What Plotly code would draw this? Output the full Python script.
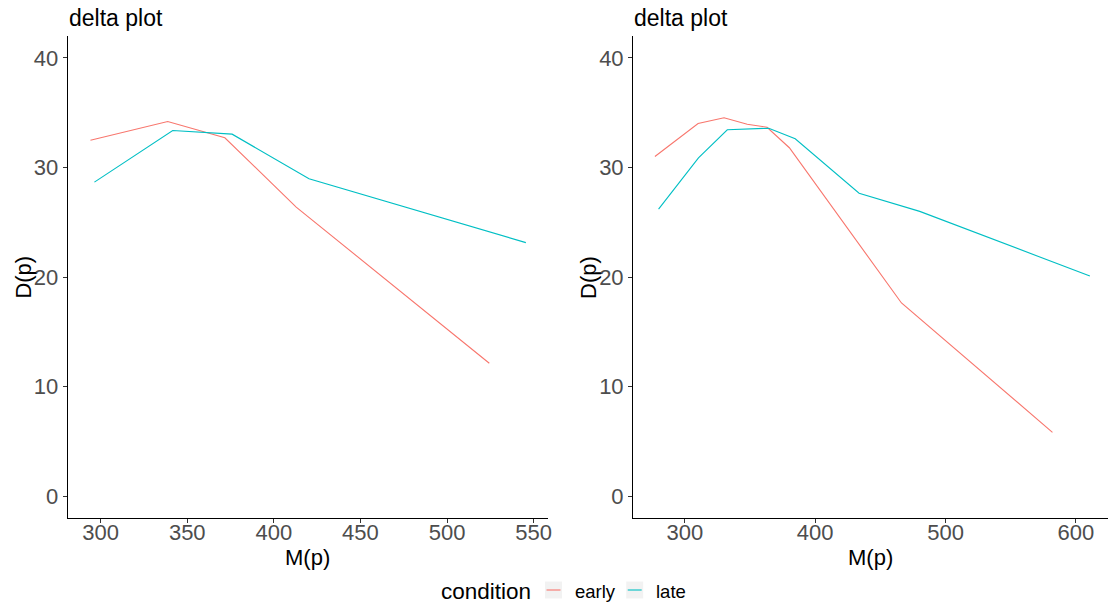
import plotly.graph_objects as go

# ---- data ----
left_early_x = [294.1, 338.7, 371.7, 412.9, 524.4]
left_early_y = [32.49, 34.19, 32.71, 26.38, 12.13]
left_late_x = [296.4, 341.6, 375.9, 420.3, 545.5]
left_late_y = [28.66, 33.37, 33.04, 28.97, 23.14]

right_early_x = [277.1, 310.2, 330.1, 347.9, 363.1, 380.2, 466.2, 582.0]
right_early_y = [31.00, 34.01, 34.53, 33.95, 33.67, 31.80, 17.63, 5.82]
right_late_x = [279.9, 310.5, 332.6, 364.4, 384.7, 433.7, 480.2, 610.7]
right_late_y = [26.20, 30.87, 33.44, 33.58, 32.62, 27.65, 25.99, 20.09]

left_xticks = [300, 350, 400, 450, 500, 550]
right_xticks = [300, 400, 500, 600]
yticks = [0, 10, 20, 30, 40]

conditions = ["early", "late"]
colors = {"early": "#F8766D", "late": "#00BFC4"}

W, H = 1113, 603
FONT = "Liberation Sans, Arial, Helvetica, sans-serif"


def px(x):
    return x / W


def py(y):
    return 1 - y / H


fig = go.Figure()

for cond, xs, ys in [("early", left_early_x, left_early_y), ("late", left_late_x, left_late_y)]:
    fig.add_trace(go.Scatter(x=xs, y=ys, mode="lines", name=cond, xaxis="x", yaxis="y",
                             line=dict(color=colors[cond], width=1.1), showlegend=False))
for cond, xs, ys in [("early", right_early_x, right_early_y), ("late", right_late_x, right_late_y)]:
    fig.add_trace(go.Scatter(x=xs, y=ys, mode="lines", name=cond, xaxis="x2", yaxis="y2",
                             line=dict(color=colors[cond], width=1.1), showlegend=False))

axis_common = dict(showline=True, linecolor="black", linewidth=1, ticks="outside", ticklen=4,
                   tickwidth=1, tickcolor="#333333", showgrid=False, zeroline=False,
                   tickfont=dict(family=FONT, size=22, color="#4D4D4D"))

ydom = [py(518), py(36)]
fig.update_layout(
    width=W, height=H,
    margin=dict(l=0, r=0, t=0, b=0),
    paper_bgcolor="white", plot_bgcolor="white",
    font=dict(family=FONT),
    showlegend=False,
    xaxis=dict(domain=[px(68), px(550)], range=[281.0, 558.3], tickvals=left_xticks,
               anchor="y", ticklabelstandoff=-9, **axis_common),
    yaxis=dict(domain=ydom, range=[-2, 42], tickvals=yticks, anchor="x", **axis_common),
    xaxis2=dict(domain=[px(635.3), px(1112)], range=[260.3, 624.6],
                tickvals=right_xticks, anchor="y2", ticklabelstandoff=-9, **axis_common),
    yaxis2=dict(domain=ydom, range=[-2, 42], tickvals=yticks, anchor="x2", **axis_common),
)

ann = []
# panel titles
for x0 in (68, 635.3):
    ann.append(dict(text="delta plot", x=px(x0 - 1), y=py(18), xref="paper", yref="paper",
                    xanchor="left", yanchor="middle", showarrow=False,
                    font=dict(family=FONT, size=23, color="black")))
# axis titles
for xc in (309, 873.5):
    ann.append(dict(text="M(p)", x=px(xc), y=py(557), xref="paper", yref="paper",
                    xanchor="center", yanchor="middle", showarrow=False,
                    font=dict(family=FONT, size=22, color="black")))
for xc in (22.7, 590):
    ann.append(dict(text="D(p)", x=px(xc), y=py(277), xref="paper", yref="paper",
                    xanchor="center", yanchor="middle", showarrow=False, textangle=-90,
                    font=dict(family=FONT, size=22, color="black")))

# legend
ann.append(dict(text="condition", x=px(441), y=py(591), xref="paper", yref="paper",
                xanchor="left", yanchor="middle", showarrow=False,
                font=dict(family=FONT, size=22.5, color="black")))
key_x = {"early": 547, "late": 628.5}
label_x = {"early": 575.5, "late": 656.5}
shapes = []
for cond in conditions:
    kx = key_x[cond]
    shapes.append(dict(type="rect", xref="paper", yref="paper", x0=px(kx), x1=px(kx + 17),
                       y0=py(598.5), y1=py(581.5), fillcolor="#F2F2F2", line=dict(width=0),
                       layer="below"))
    shapes.append(dict(type="line", xref="paper", yref="paper", x0=px(kx + 1.5), x1=px(kx + 15.5),
                       y0=py(590), y1=py(590), line=dict(color=colors[cond], width=1.1)))
    ann.append(dict(text=cond, x=px(label_x[cond]), y=py(591), xref="paper", yref="paper",
                    xanchor="left", yanchor="middle", showarrow=False,
                    font=dict(family=FONT, size=18.5, color="black")))

fig.update_layout(annotations=ann, shapes=shapes)

# remove the default page margin so the figure fills the window exactly
fig.write_html("out.html",
               config={"displayModeBar": False},
               post_script="document.body.style.margin='0';document.body.style.overflow='hidden';")
